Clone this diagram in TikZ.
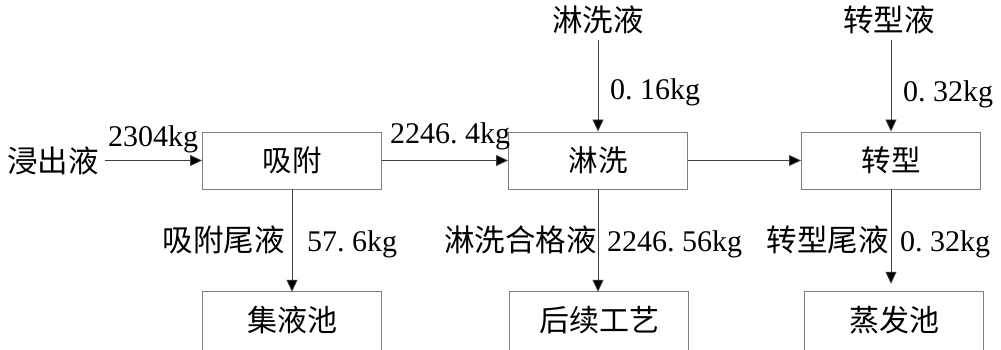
\documentclass[tikz,border=0pt]{standalone}
\usepackage{fontspec}
\setmainfont{Liberation Serif}
\newfontfamily\cjk{Noto Sans CJK SC}
\usetikzlibrary{arrows.meta}
\definecolor{boxgray}{HTML}{7F7F7F}
\definecolor{linegray}{HTML}{404040}
\newcommand{\dt}{.\hspace{0.25em}}
\begin{document}
\begin{tikzpicture}[x=1pt,y=-1pt,
  box/.style={draw=boxgray, line width=0.9pt, minimum width=179pt, minimum height=57pt, inner sep=0pt, font=\cjk\fontsize{29.5}{31}\selectfont},
  openbox/.style={minimum width=179pt, minimum height=56pt, inner sep=0pt, font=\cjk\fontsize{30}{32}\selectfont},
  lbl/.style={inner sep=0pt, font=\cjk\fontsize{30.5}{32}\selectfont},
  num/.style={inner sep=0pt, font=\fontsize{30}{32}\selectfont},
  flow/.style={draw=linegray, line width=0.8pt, -{Triangle[length=12pt,width=11pt,fill=black]}},
  boxline/.style={draw=boxgray, line width=0.9pt}
]
\useasboundingbox (0,0) rectangle (1001,349);
% main boxes
\node[box] (A) at (292,160.5) {吸附};
\node[box] (B) at (598,160.5) {淋洗};
\node[box] (C) at (891,160.5) {转型};
% bottom open boxes
\node[openbox] (D) at (292,320) {集液池};
\node[openbox] (E) at (599,320) {后续工艺};
\node[openbox] (F) at (894,320) {蒸发池};
\foreach \n in {D,E,F}{
  \draw[boxline] ([yshift=-20pt]\n.south west) -- (\n.north west) -- (\n.north east) -- ([yshift=-20pt]\n.south east);
}
% sources
\node[lbl] (in1) at (53,160.5) {浸出液};
\node[lbl, anchor=base] (w1) at (598,31) {淋洗液};
\node[lbl, anchor=base] (t1) at (889,31) {转型液};
\coordinate (w1s) at (598,40);
\coordinate (t1s) at (891,40);
% connectors
\draw[flow, shorten <=6pt] (in1.east) -- (A.west);
\draw[flow] (A.east) -- (B.west);
\draw[flow] (B.east) -- (C.west);
\draw[flow] (w1s) -- (B.north);
\draw[flow] (t1s) -- (C.north);
\draw[flow] (A.south) -- (A.south |- D.north);
\draw[flow] (B.south) -- (B.south |- E.north);
\draw[flow, shorten >=8pt] (C.south) -- (C.south |- F.north);
% labels
\node[num, anchor=base] (l1) at (153,146) {2304kg};
\node[num, anchor=base] (l2) at (450,143) {2246\dt4kg};
\node[num, anchor=base west] (l3) at (610,99) {0\dt16kg};
\node[num, anchor=base west] (l4) at (903,101) {0\dt32kg};
\node[lbl, anchor=base east] (l5) at (285,251) {吸附尾液};
\node[num, anchor=base west] (l6) at (307,251) {57\dt6kg};
\node[lbl, anchor=base east] (l7) at (597,251) {淋洗合格液};
\node[num, anchor=base west] (l8) at (607,251) {2246\dt56kg};
\node[lbl, anchor=base east] (l9) at (889,251) {转型尾液};
\node[num, anchor=base west] (l10) at (900,251) {0\dt32kg};
\end{tikzpicture}
\end{document}
